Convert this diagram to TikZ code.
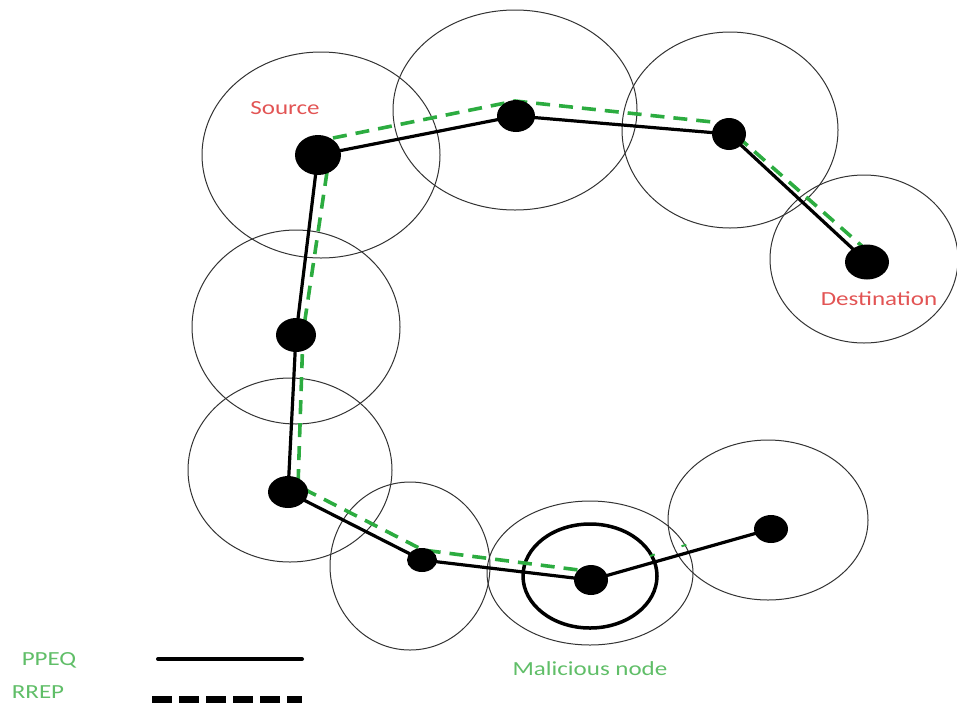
\documentclass[tikz,border=0pt]{standalone}
\usepackage{fontspec}
\newfontfamily\lblfont[FakeStretch=1.25]{Carlito}
\usetikzlibrary{shapes.geometric}
\definecolor{lblred}{RGB}{226,84,84}
\definecolor{lblgreen}{RGB}{96,190,104}
\definecolor{rrepgreen}{RGB}{44,172,64}
\tikzset{
  txrange/.style={draw=black!80, line width=1pt},
  badrange/.style={draw=black, line width=3.5pt},
  dot/.style={ellipse, fill=black, inner sep=0pt},
  ppeq/.style={draw=black, line width=3.2pt, line cap=round, line join=round},
  rrep/.style={draw=rrepgreen, line width=3.6pt, dash pattern=on 14pt off 9pt},
  lbl/.style={font=\lblfont\fontsize{20}{22}\selectfont, inner sep=0pt},
}
\begin{document}
\begin{tikzpicture}[x=1pt,y=-1pt]
\useasboundingbox (0,0) rectangle (957,702);
\clip (0,0) rectangle (957,702);
% transmission ranges
\draw[txrange] (321,155) ellipse [x radius=119pt, y radius=103pt];
\draw[txrange] (515,110) ellipse [x radius=122pt, y radius=100pt];
\draw[txrange] (730,130) ellipse [x radius=108pt, y radius=98pt];
\draw[txrange] (864,259) ellipse [x radius=94pt, y radius=84pt];
\draw[txrange] (296,327) ellipse [x radius=104pt, y radius=97pt];
\draw[txrange] (290,470) ellipse [x radius=102pt, y radius=92pt];
\draw[txrange] (410,566) ellipse [x radius=80pt, y radius=84pt];
\draw[txrange] (590,573) ellipse [x radius=103pt, y radius=72pt];
\draw[txrange] (768,520) ellipse [x radius=100pt, y radius=80pt];
\draw[badrange] (590,576) ellipse [x radius=67pt, y radius=52pt];
% node positions
\coordinate (S) at (318,155);
\coordinate (N2) at (516,116);
\coordinate (N3) at (729,134);
\coordinate (D) at (867,262);
\coordinate (N5) at (296,335);
\coordinate (N6) at (288,492);
\coordinate (N7) at (422,560);
\coordinate (M) at (591,580);
\coordinate (N9) at (771,529);
% RREP (green dashed) way points
\coordinate (g1) at (333,138);
\coordinate (g2) at (515,101);
\coordinate (g3) at (722,123);
\coordinate (g4) at (863,247);
\coordinate (g5) at (327,172);
\coordinate (g6) at (303,333);
\coordinate (g7) at (298,486);
\coordinate (g8) at (423,550);
\coordinate (g9) at (602,573);
\coordinate (g10) at (650,556);
\coordinate (g11) at (692,543);
% PPEQ path
\draw[ppeq] (N9) -- (M) -- (N7) -- (N6) -- (N5) -- (S) -- (N2) -- (N3) -- (D);
% RREP path
\draw[rrep] (g1) -- (g2) -- (g3) -- (g4);
\draw[rrep] (g5) -- (g6) -- (g7) -- (g8) -- (g9);
\draw[draw=rrepgreen, line width=2pt, dash pattern=on 5pt off 28pt] (g10) -- (g11);
% nodes
\node[dot, minimum width=46pt, minimum height=40pt] (nS) at (S) {};
\node[dot, minimum width=38pt, minimum height=32pt] (nN2) at (N2) {};
\node[dot, minimum width=34pt, minimum height=32pt] (nN3) at (N3) {};
\node[dot, minimum width=44pt, minimum height=35pt] (nD) at (D) {};
\node[dot, minimum width=40pt, minimum height=34pt] (nN5) at (N5) {};
\node[dot, minimum width=40pt, minimum height=32pt] (nN6) at (N6) {};
\node[dot, minimum width=30pt, minimum height=24pt] (nN7) at (N7) {};
\node[dot, minimum width=34pt, minimum height=30pt] (nM) at (M) {};
\node[dot, minimum width=34pt, minimum height=28pt] (nN9) at (N9) {};
% labels
\node[lbl, text=lblred] (tS) at (285,108) {Source};
\node[lbl, text=lblred] (tD) at (879,299) {Destination};
\node[lbl, text=lblgreen] (tM) at (590,669) {Malicious node};
\node[lbl, text=lblgreen] (tP) at (49,660) {PPEQ};
\node[lbl, text=lblgreen] (tR) at (38,692) {RREP};
% legend
\coordinate (l1) at (158,659);
\coordinate (l2) at (302,659);
\coordinate (l3) at (152,706);
\coordinate (l4) at (302,706);
\draw[draw=black, line width=4pt, line cap=round] (l1) -- (l2);
\draw[draw=black, line width=20pt, dash pattern=on 20pt off 7pt] (l3) -- (l4);
\end{tikzpicture}
\end{document}
